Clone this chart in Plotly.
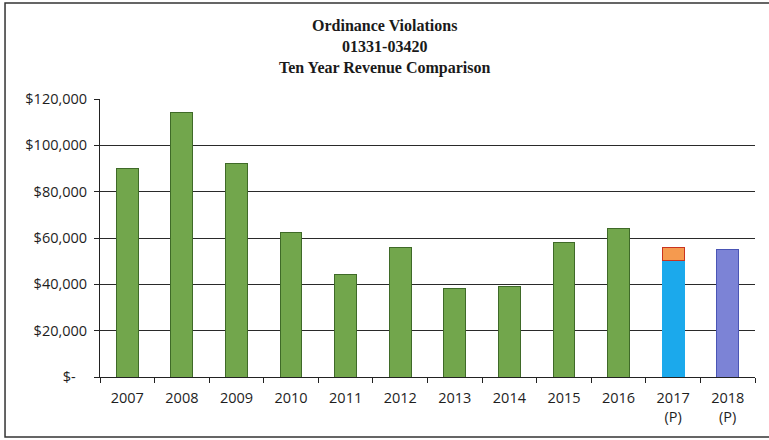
import plotly.graph_objects as go

# Ordinance violations revenue, account 01331-03420
years = ["2007", "2008", "2009", "2010", "2011", "2012", "2013", "2014", "2015", "2016"]
actual = [90200, 114000, 92300, 62500, 44400, 56000, 38300, 39200, 58200, 64100]

proj_2017_base = 50200
proj_2017_extra = 5800
proj_2018 = 55000

cat_2017 = "2017<br>(P)"
cat_2018 = "2018<br>(P)"
categories = years + [cat_2017, cat_2018]

y_ticks = [0, 20000, 40000, 60000, 80000, 100000, 120000]
y_labels = ["$-\u00a0\u00a0\u00a0", "$20,000", "$40,000", "$60,000", "$80,000", "$100,000", "$120,000"]

title_lines = ["Ordinance Violations", "01331-03420", "Ten Year Revenue Comparison"]

fig = go.Figure()
fig.add_trace(go.Bar(x=years, y=actual, marker=dict(color="#72a64c", line=dict(color="#3f6a28", width=1))))
fig.add_trace(go.Bar(x=[cat_2017], y=[proj_2017_base], marker=dict(color="#1ba9ec", line=dict(color="#1ba9ec", width=1))))
fig.add_trace(go.Bar(x=[cat_2017], y=[proj_2017_extra], marker=dict(color="#f59a4f", line=dict(color="#c9331f", width=1))))
fig.add_trace(go.Bar(x=[cat_2018], y=[proj_2018], marker=dict(color="#7c83d6", line=dict(color="#4a55b5", width=1))))

fig.update_layout(
    width=769, height=440,
    barmode="stack", bargap=0.6,
    showlegend=False,
    paper_bgcolor="white", plot_bgcolor="white",
    margin=dict(l=100, r=14, t=99, b=63),
    font=dict(family="Open Sans, Liberation Sans, sans-serif", size=14.5, color="#1e1e1e"),
    xaxis=dict(
        type="category", categoryorder="array", categoryarray=categories,
        showline=True, linecolor="#222", linewidth=1,
        ticks="outside", tickson="boundaries", ticklen=5, tickcolor="#222",
        showgrid=False, tickfont=dict(size=14.5), ticklabelstandoff=8,
    ),
    yaxis=dict(
        range=[0, 120000], tickvals=y_ticks, ticktext=y_labels,
        showline=True, linecolor="#222", linewidth=1,
        ticks="outside", ticklen=5, tickcolor="#222",
        showgrid=True, gridcolor="#2a2a2a", gridwidth=1,
        zeroline=False, tickfont=dict(size=14.5), ticklabelstandoff=4,
    ),
    annotations=[
        dict(text="<b>" + "<br>".join(title_lines) + "</b>",
             xref="paper", yref="paper", x=(385 - 100) / 655, y=1.303,
             xanchor="center", yanchor="top", showarrow=False, align="center",
             font=dict(family="Liberation Serif, Times New Roman, serif", size=16, color="#1a1a1a")),
    ],
    shapes=[
        dict(type="rect", xref="paper", yref="paper",
             x0=-0.145, x1=1.04, y0=-0.216, y1=1.345,
             line=dict(color="#333", width=1.5), layer="below"),
    ],
)

fig.write_html("out.html")
